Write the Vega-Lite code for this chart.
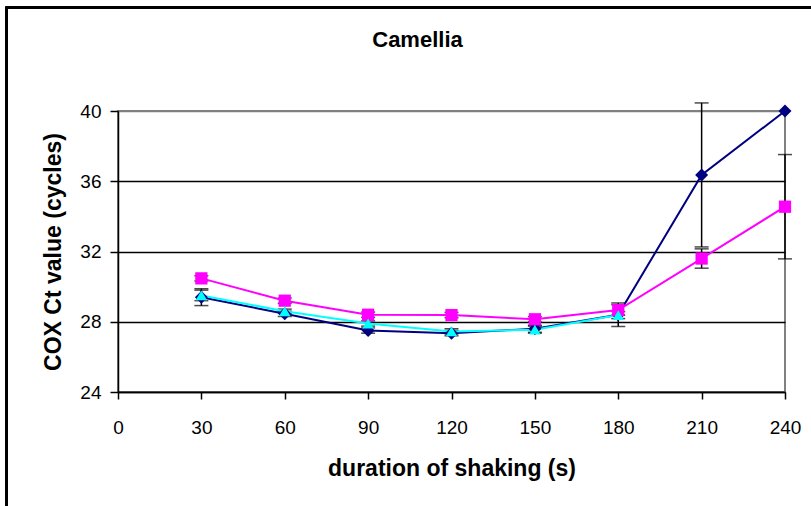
{
  "$schema": "https://vega.github.io/schema/vega-lite/v6.json",
  "width": 667,
  "height": 281,
  "autosize": "none",
  "padding": {"left": 118, "top": 111, "right": 26, "bottom": 114},
  "background": "white",
  "config": {
    "view": {"stroke": "#808080", "strokeWidth": 2},
    "font": "Liberation Sans"
  },
  "title": {
    "text": "Camellia",
    "font": "Liberation Sans",
    "fontSize": 22,
    "fontWeight": "bold",
    "color": "black",
    "anchor": "middle",
    "frame": "group",
    "baseline": "alphabetic",
    "dx": -34,
    "offset": 0,
    "dy": 63
  },
  "data": {
    "values": [
      {"t": 30, "series": "Series 1", "ct": 29.4, "err": 0.48},
      {"t": 60, "series": "Series 1", "ct": 28.45, "err": 0.15},
      {"t": 90, "series": "Series 1", "ct": 27.5, "err": 0.15},
      {"t": 120, "series": "Series 1", "ct": 27.35, "err": 0.15},
      {"t": 150, "series": "Series 1", "ct": 27.6, "err": 0.2},
      {"t": 180, "series": "Series 1", "ct": 28.4, "err": 0.67},
      {"t": 210, "series": "Series 1", "ct": 36.36, "err": 4.1},
      {"t": 240, "series": "Series 1", "ct": 40.0, "err": 0},
      {"t": 30, "series": "Series 2", "ct": 30.47, "err": 0.15},
      {"t": 60, "series": "Series 2", "ct": 29.2, "err": 0.15},
      {"t": 90, "series": "Series 2", "ct": 28.4, "err": 0.15},
      {"t": 120, "series": "Series 2", "ct": 28.38, "err": 0.15},
      {"t": 150, "series": "Series 2", "ct": 28.14, "err": 0.15},
      {"t": 180, "series": "Series 2", "ct": 28.67, "err": 0.3},
      {"t": 210, "series": "Series 2", "ct": 31.6, "err": 0.55},
      {"t": 240, "series": "Series 2", "ct": 34.55, "err": 2.97},
      {"t": 30, "series": "Series 3", "ct": 29.5, "err": 0.3},
      {"t": 60, "series": "Series 3", "ct": 28.6, "err": 0.12},
      {"t": 90, "series": "Series 3", "ct": 27.9, "err": 0.15},
      {"t": 120, "series": "Series 3", "ct": 27.45, "err": 0.15},
      {"t": 150, "series": "Series 3", "ct": 27.55, "err": 0.2},
      {"t": 180, "series": "Series 3", "ct": 28.38, "err": 0.2}
    ]
  },
  "layer": [
    {
      "mark": {"type": "rect", "fill": null, "stroke": "black", "strokeWidth": 2, "clip": false},
      "encoding": {
        "x": {"datum": -40, "type": "quantitative", "title": "duration of shaking (s)", "scale": {"domain": [0, 240], "nice": false, "zero": false}},
        "x2": {"datum": 262},
        "y": {"datum": 45.9, "type": "quantitative", "title": "COX Ct value (cycles)", "scale": {"domain": [24, 40], "nice": false, "zero": false}},
        "y2": {"datum": 15}
      }
    },
    {
      "transform": [{"filter": "datum.err > 0"}],
      "mark": {"type": "errorbar", "color": "black", "thickness": 1.5, "ticks": {"size": 14, "color": "black"}},
      "encoding": {
        "x": {"field": "t", "type": "quantitative", "title": "duration of shaking (s)", "scale": {"domain": [0, 240], "nice": false, "zero": false}},
        "y": {"field": "ct", "type": "quantitative", "title": "COX Ct value (cycles)", "scale": {"domain": [24, 40], "nice": false, "zero": false}},
        "yError": {"field": "err"}
      }
    },
    {
      "mark": {"type": "line", "strokeWidth": 2},
      "encoding": {
        "x": {
          "field": "t", "type": "quantitative", "title": "duration of shaking (s)",
          "scale": {"domain": [0, 240], "nice": false, "zero": false},
          "axis": {
            "values": [0, 30, 60, 90, 120, 150, 180, 210, 240],
            "grid": false,
            "tickSize": 7, "tickColor": "black", "tickWidth": 1.5,
            "domainColor": "black", "domainWidth": 1.5,
            "labelFontSize": 19, "labelColor": "black", "labelPadding": 19,
            "labelFlush": false, "labelFont": "Liberation Sans",
            "title": "duration of shaking (s)",
            "titleFont": "Liberation Sans", "titleFontSize": 23, "titleFontWeight": "bold",
            "titleColor": "black", "titleY": 83, "titleBaseline": "alphabetic"
          }
        },
        "y": {
          "field": "ct", "type": "quantitative", "title": "COX Ct value (cycles)",
          "scale": {"domain": [24, 40], "nice": false, "zero": false},
          "axis": {
            "values": [24, 28, 32, 36, 40],
            "grid": true,
            "gridColor": {"condition": {"test": "datum.value == 40", "value": "#808080"}, "value": "black"},
            "gridWidth": 1.5,
            "tickSize": 8, "tickColor": "black", "tickWidth": 1.5,
            "domainColor": "black", "domainWidth": 1.5,
            "labelFontSize": 19, "labelColor": "black", "labelPadding": 9,
            "labelFont": "Liberation Sans",
            "title": "COX Ct value (cycles)",
            "titleFont": "Liberation Sans", "titleFontSize": 23, "titleFontWeight": "bold",
            "titleColor": "black", "titleX": -58, "titleBaseline": "alphabetic"
          }
        },
        "color": {
          "field": "series", "type": "nominal",
          "scale": {"domain": ["Series 1", "Series 2", "Series 3"], "range": ["#000080", "#FF00FF", "#00FFFF"]},
          "legend": null
        }
      }
    },
    {
      "mark": {"type": "point", "filled": true, "opacity": 1},
      "encoding": {
        "x": {"field": "t", "type": "quantitative", "title": "duration of shaking (s)", "scale": {"domain": [0, 240], "nice": false, "zero": false}},
        "y": {"field": "ct", "type": "quantitative", "title": "COX Ct value (cycles)", "scale": {"domain": [24, 40], "nice": false, "zero": false}},
        "color": {
          "field": "series", "type": "nominal",
          "scale": {"domain": ["Series 1", "Series 2", "Series 3"], "range": ["#000080", "#FF00FF", "#00FFFF"]},
          "legend": null
        },
        "shape": {
          "field": "series", "type": "nominal",
          "scale": {"domain": ["Series 1", "Series 2", "Series 3"], "range": ["diamond", "square", "triangle-up"]},
          "legend": null
        },
        "size": {
          "field": "series", "type": "nominal",
          "scale": {"domain": ["Series 1", "Series 2", "Series 3"], "range": [170, 130, 170]},
          "legend": null
        }
      }
    }
  ]
}
